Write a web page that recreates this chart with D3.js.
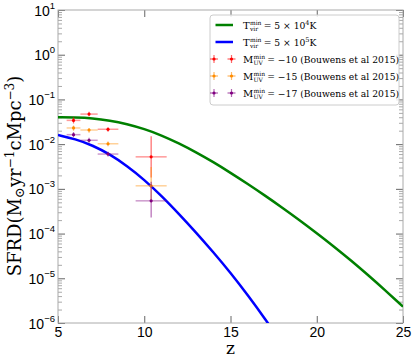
<!DOCTYPE html>
<html>
<head>
<meta charset="utf-8">
<script src="https://cdn.jsdelivr.net/npm/d3@7"></script>
<style>
  body { margin: 0; background: #fff; }
</style>
</head>
<body>
<div id="canvas"></div>
<script>
// model curves
let zCurve = [5, 6, 7, 8, 9, 10, 11, 12, 13, 14, 15, 16, 17, 18, 19, 20, 21, 22, 23, 24, 25]
let sfrdT4 = [3.98e-2, 3.94e-2, 3.8e-2, 3.39e-2, 2.82e-2, 2.19e-2, 1.58e-2, 1.047e-2, 6.61e-3, 3.98e-3,
  2.29e-3, 1.29e-3, 7.08e-4, 3.8e-4, 2.0e-4, 1.02e-4, 5.13e-5, 2.48e-5, 1.16e-5, 5.25e-6, 2.32e-6]
let zCurveT5 = [5, 6, 7, 8, 9, 10, 11, 12, 13, 14, 15, 16, 17, 18]
let sfrdT5 = [1.6e-2, 1.3e-2, 9.42e-3, 5.94e-3, 3.27e-3, 1.6e-3, 6.98e-4, 2.78e-4, 1.06e-4, 3.84e-5,
  1.33e-5, 4.21e-6, 1.24e-6, 3.42e-7]

// Bouwens et al 2015 points
let zObs = [5.9, 6.8, 7.9, 10.4]
let zObsLo = [5.5, 6.3, 7.3, 9.5]
let zObsHi = [6.3, 7.3, 8.5, 11.3]
let sfrdM10 = [0.034, 0.047, 0.0215, 0.0052]
let sfrdM10Lo = [0.029, 0.042, 0.019, 0.0018]
let sfrdM10Hi = [0.040, 0.053, 0.024, 0.015]
let sfrdM15 = [0.023, 0.0207, 0.0102, 0.00117]
let sfrdM15Lo = [0.020, 0.018, 0.009, 0.0005]
let sfrdM15Hi = [0.026, 0.023, 0.0115, 0.0031]
let sfrdM17 = [0.0163, 0.0122, 0.006, 0.00054]
let sfrdM17Lo = [0.0143, 0.0107, 0.0053, 0.00023]
let sfrdM17Hi = [0.0186, 0.0139, 0.0068, 0.00145]

let xTicks = [5, 10, 15, 20, 25]
let yExponents = [1, 0, -1, -2, -3, -4, -5, -6]

window.onload = function () { setup() }

function setup() {
  let width = 415, height = 363
  let left = 58, right = 403, top = 10, bottom = 323

  let svg = d3.select("#canvas")
    .append("svg")
    .attr("width", width)
    .attr("height", height)
    .style("font-family", "'DejaVu Sans', sans-serif")

  let x = d3.scaleLinear().domain([5, 25]).range([left, right])
  let y = d3.scaleLog().domain([1e-6, 10]).range([bottom, top])

  svg.append("clipPath").attr("id", "plotclip")
    .append("rect")
    .attr("x", left).attr("y", top)
    .attr("width", right - left).attr("height", bottom - top)

  // ticks
  let majors = yExponents.map(e => Math.pow(10, e))
  let minors = []
  yExponents.slice(1).forEach(e => {
    for (let k = 2; k <= 9; k++) minors.push(k * Math.pow(10, e))
  })

  function styleAxis(g, col) {
    g.select(".domain").remove()
    g.selectAll(".tick line").attr("stroke", col)
  }

  svg.append("g").attr("transform", `translate(${left},0)`)
    .call(d3.axisLeft(y).tickValues(minors).tickSize(-4).tickFormat(""))
    .call(g => styleAxis(g, "#aaa"))
  svg.append("g").attr("transform", `translate(${right},0)`)
    .call(d3.axisRight(y).tickValues(minors).tickSize(-4).tickFormat(""))
    .call(g => styleAxis(g, "#aaa"))

  let yAxis = svg.append("g").attr("transform", `translate(${left},0)`)
    .call(d3.axisLeft(y).tickValues(majors).tickSize(-7).tickPadding(3))
    .call(g => styleAxis(g, "#666"))
  yAxis.selectAll(".tick text")
    .attr("fill", "#000")
    .style("font-size", "14px")
    .attr("dy", "5")
    .each(function (d) {
      let t = d3.select(this).text(null)
      t.append("tspan").text("10")
      t.append("tspan").text(String(Math.round(Math.log10(d))).replace("-", "\u2212"))
        .attr("dy", -7).style("font-size", "9.5px")
    })

  svg.append("g").attr("transform", `translate(${right},0)`)
    .call(d3.axisRight(y).tickValues(majors).tickSize(-7).tickFormat(""))
    .call(g => styleAxis(g, "#666"))

  svg.append("g").attr("transform", `translate(0,${bottom})`)
    .call(d3.axisBottom(x).tickValues(xTicks).tickSize(-7).tickPadding(4).tickFormat(d3.format("d")))
    .call(g => styleAxis(g, "#666"))
    .call(g => g.selectAll(".tick text").attr("fill", "#000").style("font-size", "14px"))
  svg.append("g").attr("transform", `translate(0,${top})`)
    .call(d3.axisTop(x).tickValues(xTicks).tickSize(-7).tickFormat(""))
    .call(g => styleAxis(g, "#666"))

  // frame
  svg.append("rect")
    .attr("x", left).attr("y", top)
    .attr("width", right - left).attr("height", bottom - top)
    .attr("fill", "none").attr("stroke", "#aaa").attr("stroke-width", 1)

  // curves
  let line = d3.line()
    .x(d => x(d[0]))
    .y(d => y(d[1]))
    .curve(d3.curveBasis)

  let plot = svg.append("g").attr("clip-path", "url(#plotclip)")
  plot.append("path")
    .datum(d3.zip(zCurve, sfrdT4))
    .attr("d", line)
    .attr("fill", "none").attr("stroke", "#008000").attr("stroke-width", 2.5)
  plot.append("path")
    .datum(d3.zip(zCurveT5, sfrdT5))
    .attr("d", line)
    .attr("fill", "none").attr("stroke", "#0000ff").attr("stroke-width", 2.5)

  // error bars
  let obsSets = [
    { color: "#ff0000", vals: sfrdM10, lo: sfrdM10Lo, hi: sfrdM10Hi },
    { color: "#ff8c00", vals: sfrdM15, lo: sfrdM15Lo, hi: sfrdM15Hi },
    { color: "#800080", vals: sfrdM17, lo: sfrdM17Lo, hi: sfrdM17Hi }
  ]

  obsSets.forEach(s => {
    let pts = zObs.map((z, i) => ({ z: z, zl: zObsLo[i], zh: zObsHi[i], v: s.vals[i], l: s.lo[i], h: s.hi[i] }))
    let g = plot.append("g")
    g.selectAll(".xerr").data(pts).join("line")
      .attr("x1", d => x(d.zl)).attr("x2", d => x(d.zh))
      .attr("y1", d => y(d.v)).attr("y2", d => y(d.v))
      .attr("stroke", s.color).attr("stroke-opacity", 0.4).attr("stroke-width", 1.5)
    g.selectAll(".yerr").data(pts).join("line")
      .attr("x1", d => x(d.z)).attr("x2", d => x(d.z))
      .attr("y1", d => y(d.l)).attr("y2", d => y(d.h))
      .attr("stroke", s.color).attr("stroke-opacity", 0.6).attr("stroke-width", 1.2)
    g.selectAll("circle").data(pts).join("circle")
      .attr("cx", d => x(d.z)).attr("cy", d => y(d.v))
      .attr("r", 1.6).attr("fill", s.color)
  })

  // legend
  let leg = svg.append("g")
  leg.append("rect")
    .attr("x", 210).attr("y", 15).attr("width", 189).attr("height", 90).attr("rx", 3)
    .attr("fill", "#fff").attr("fill-opacity", 0.85).attr("stroke", "#ccc")

  let serif = "'DejaVu Serif', serif"
  function mathEntry(yy, base, sub, rest, restSup, tail) {
    let tx = 243
    let b = leg.append("text").attr("x", tx).attr("y", yy + 4)
      .style("font-family", serif).style("font-size", "10px").text(base)
    let w = b.node().getComputedTextLength()
    let s1 = leg.append("text").attr("x", tx + w + 0.3).attr("y", yy - 0.5)
      .style("font-family", serif).style("font-size", "6px").text("min")
    let s2 = leg.append("text").attr("x", tx + w + 0.3).attr("y", yy + 6)
      .style("font-family", serif).style("font-size", "6px").text(sub)
    let ws = Math.max(s1.node().getComputedTextLength(), s2.node().getComputedTextLength())
    let r = leg.append("text").attr("x", tx + w + ws + 2.5).attr("y", yy + 4)
      .style("font-family", serif).style("font-size", "9.2px")
    r.append("tspan").text(rest)
    if (restSup) {
      r.append("tspan").text(restSup).attr("dy", -4).style("font-size", "6.5px")
      r.append("tspan").text(tail).attr("dy", 4)
    }
  }

  let legendLines = [
    { color: "#008000", yy: 25, sup: "4" },
    { color: "#0000ff", yy: 42, sup: "5" }
  ]
  legendLines.forEach(d => {
    leg.append("line")
      .attr("x1", 215.5).attr("x2", 233).attr("y1", d.yy).attr("y2", d.yy)
      .attr("stroke", d.color).attr("stroke-width", 2.5)
    mathEntry(d.yy, "T", "vir", "= 5 \u00d7 10", d.sup, "K")
  })

  let legendObs = ["\u221210", "\u221215", "\u221217"]
  obsSets.forEach((s, i) => {
    let yy = 59 + i * 17
    ;[214, 231.5].forEach(cx => {
      leg.append("line").attr("x1", cx - 4).attr("x2", cx + 4).attr("y1", yy).attr("y2", yy)
        .attr("stroke", s.color).attr("stroke-opacity", 0.5).attr("stroke-width", 1.5)
      leg.append("line").attr("x1", cx).attr("x2", cx).attr("y1", yy - 4).attr("y2", yy + 4)
        .attr("stroke", s.color).attr("stroke-opacity", 0.6).attr("stroke-width", 1.2)
      leg.append("circle").attr("cx", cx).attr("cy", yy).attr("r", 1.6).attr("fill", s.color)
    })
    mathEntry(yy, "M", "UV", "= " + legendObs[i] + " (Bouwens et al 2015)")
  })

  // axis labels
  svg.append("text")
    .attr("x", (left + right) / 2).attr("y", 354)
    .attr("text-anchor", "middle")
    .style("font-family", serif).style("font-size", "17px")
    .text("z")

  let yl = svg.append("text")
    .attr("transform", "translate(21,176) rotate(-90)")
    .attr("text-anchor", "middle")
    .style("font-family", serif).style("font-size", "18px")
  yl.append("tspan").text("SFRD(M")
  yl.append("tspan").text("\u2299").attr("dy", 3).style("font-size", "13px")
  yl.append("tspan").text("yr").attr("dy", -3)
  yl.append("tspan").text("\u22121").attr("dy", -7).style("font-size", "12px")
  yl.append("tspan").text("cMpc").attr("dy", 7)
  yl.append("tspan").text("\u22123").attr("dy", -7).style("font-size", "12px")
  yl.append("tspan").text(")").attr("dy", 7)
}
</script>
</body>
</html>
